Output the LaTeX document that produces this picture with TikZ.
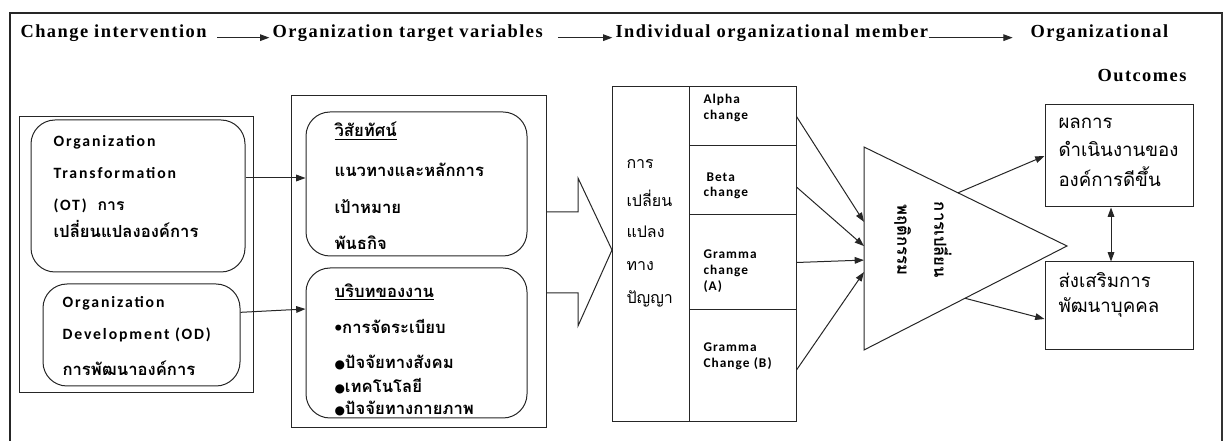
\documentclass[tikz,border=0pt]{standalone}
\usepackage{fontspec}
\setmainfont{Liberation Serif}
\newfontfamily\hdrfont[LetterSpace=8]{Liberation Serif}
\newfontfamily\latfont[LetterSpace=12]{Carlito}
\newfontfamily\cellfont[LetterSpace=8]{Carlito}
\newfontfamily\thaifont[Script=Thai]{Loma}
\newfontfamily\symfont{DejaVu Sans}
\usetikzlibrary{arrows.meta,fit,calc}

\begin{document}
\begin{tikzpicture}[x=0.75pt,y=-0.75pt,line width=0.75pt,draw=black!85,
  >={Triangle[length=7pt,width=5pt]},
  box/.style={draw,inner sep=0pt},
  rbox/.style={draw,rounded corners=18pt,inner sep=0pt},
  hd/.style={font=\hdrfont\bfseries\fontsize{13.8}{16}\selectfont,inner sep=0pt,anchor=west},
  en/.style={font=\latfont\bfseries\fontsize{11.8}{14}\selectfont,inner sep=0pt,anchor=west},
  th/.style={font=\thaifont\bfseries\fontsize{12.5}{14}\selectfont,inner sep=0pt,anchor=west},
  thr/.style={font=\thaifont\fontsize{12}{14}\selectfont,inner sep=0pt,anchor=west},
  tho/.style={font=\thaifont\fontsize{14}{16}\selectfont,inner sep=0pt,anchor=west},
  cell/.style={font=\cellfont\bfseries\fontsize{10}{12}\selectfont,inner sep=0pt,anchor=west},
  flow/.style={->}]
\useasboundingbox (0,0) rectangle (1225,441);

% frame
\draw[line width=1pt] (10,441) -- (10,13) -- (1222,13) -- (1222,441);
\draw[line width=1.6pt,black!80] (1222,13) -- (1222,441);

% header row
\node[hd] (h1) at (20,33) {Change intervention};
\node[hd] (h2) at (272,33) {Organization target variables};
\node[hd] (h3) at (615,33) {Individual organizational member};
\node[hd] (h4) at (1030,33) {Organizational};
\node[hd,anchor=east] (h5) at (1187,76) {Outcomes};
\draw[flow] ([xshift=7.5pt,yshift=-3.5pt]h1.east) -- ([xshift=-2pt,yshift=-3.5pt]h2.west);
\draw[flow] ([xshift=11pt,yshift=-3.5pt]h2.east) -- ([xshift=-2pt,yshift=-3.5pt]h3.west);
\draw[flow] ([yshift=-3.5pt]h3.east) -- ([xshift=-13pt,yshift=-3.5pt]h4.west);

% change interventions
\node[box,fit={(19,117)(253,393)}] (ci) {};
\node[rbox,fit={(31,120)(245,272)}] (ot) {};
\node[rbox,fit={(43,284)(240,386)}] (od) {};
\node[en] (ot1) at (53,142) {Organization};
\node[en] (ot2) at (53,173) {Transformation};
\node[en] (ot3) at (53,206) {(OT)~~{\thaifont\bfseries การ}};
\node[th] (ot4) at (53,229) {เปลี่ยนแปลงองค์การ};
\node[en] (od1) at (62,303) {Organization};
\node[en] (od2) at (62,335) {Development (OD)};
\node[th] (od3) at (62,368) {การพัฒนาองค์การ};

% target variables
\node[box,fit={(291,96)(546,428)}] (tv) {};
\node[rbox,fit={(306,112)(527,256)}] (vis) {};
\node[rbox,fit={(306,268)(527,418)}] (ctx) {};
\node[th] (v1) at (334,131) {\underline{วิสัยทัศน์}};
\node[th] (v2) at (334,170) {แนวทางและหลักการ};
\node[th] (v3) at (334,207) {เป้าหมาย};
\node[th] (v4) at (334,243) {พันธกิจ};
\node[th] (c1) at (334,292) {\underline{บริบทของงาน}};
\node[th] (c2) at (334,326) {•การจัดระเบียบ};
\node[th] (c3) at (334,363) {{\symfont\fontsize{9}{10}\selectfont ●}ปัจจัยทางสังคม};
\node[th] (c4) at (334,386) {{\symfont\fontsize{9}{10}\selectfont ●}เทคโนโลยี};
\node[th] (c5) at (334,409) {{\symfont\fontsize{9}{10}\selectfont ●}ปัจจัยทางกายภาพ};
\draw[flow] ([yshift=13.5pt]ot.east) -- ([yshift=4.5pt]vis.west);
\draw[flow] ([yshift=17pt]od.east) -- ([yshift=25.5pt]ctx.west);

% block arrow
\draw (546,212) -- (578,212) -- (578,178) -- (612,250) -- (578,326) -- (578,293) -- (546,293);

% individual member table
\node[box,fit={(612,87)(689,422)}] (cog) {};
\node[box,fit={(689,87)(796,146)}] (alpha) {};
\node[box,fit={(689,146)(796,215)}] (beta) {};
\node[box,fit={(689,215)(796,310)}] (gamA) {};
\node[box,fit={(689,310)(796,422)}] (gamB) {};
\node[thr] (g1) at (626,164) {การ};
\node[thr] (g2) at (626,198) {เปลี่ยน};
\node[thr] (g3) at (626,232) {แปลง};
\node[thr] (g4) at (626,266) {ทาง};
\node[thr] (g5) at (626,299) {ปัญญา};
\node[cell] (a1) at (703,100) {Alpha};
\node[cell] (a2) at (703,116) {change};
\node[cell] (b1) at (706,177) {Beta};
\node[cell] (b2) at (703,193) {change};
\node[cell] (ga1) at (703,254) {Gramma};
\node[cell] (ga2) at (703,271) {change};
\node[cell] (ga3) at (703,287) {(A)};
\node[cell] (gb1) at (703,347) {Gramma};
\node[cell] (gb2) at (703,364) {Change (B)};

% behaviour change triangle
\coordinate (t1) at (864,147);
\coordinate (t2) at (864,350);
\coordinate (t3) at (1067,246);
\draw (t1) -- (t3) -- (t2) -- cycle;
\node[rotate=-90,align=center,inner sep=0pt,font=\thaifont\bfseries\fontsize{12.5}{27.75}\selectfont] (beh) at (923,240) {การเปลี่ยน\\พฤติกรรม};
\draw[flow] (alpha.east) -- ($(t1)!0.369!(t2)$);
\draw[flow] ([yshift=-4.9pt]beta.east) -- ($(t1)!0.488!(t2)$);
\draw[flow] (gamA.east) -- ($(t1)!0.557!(t2)$);
\draw[flow] ([yshift=-3pt]gamB.east) -- ($(t1)!0.616!(t2)$);

% outcomes
\node[box,fit={(1045,105)(1193,207)}] (perf) {};
\node[box,fit={(1045,262)(1193,350)}] (dev) {};
\node[tho] (p1) at (1058,123) {ผลการ};
\node[tho] (p2) at (1058,149) {ดำเนินงานของ};
\node[tho] (p3) at (1058,177) {องค์การดีขึ้น};
\node[tho] (d1) at (1058,280) {ส่งเสริมการ};
\node[tho] (d2) at (1058,307) {พัฒนาบุคคล};
\draw[flow] ($(t1)!0.463!(t3)$) -- (perf.west);
\draw[flow] ($(t2)!0.4975!(t3)$) -- ([yshift=-9.75pt]dev.west);
\draw[<->] ([xshift=-6pt]perf.south) -- ([xshift=-6pt]dev.north);
\end{tikzpicture}
\end{document}
